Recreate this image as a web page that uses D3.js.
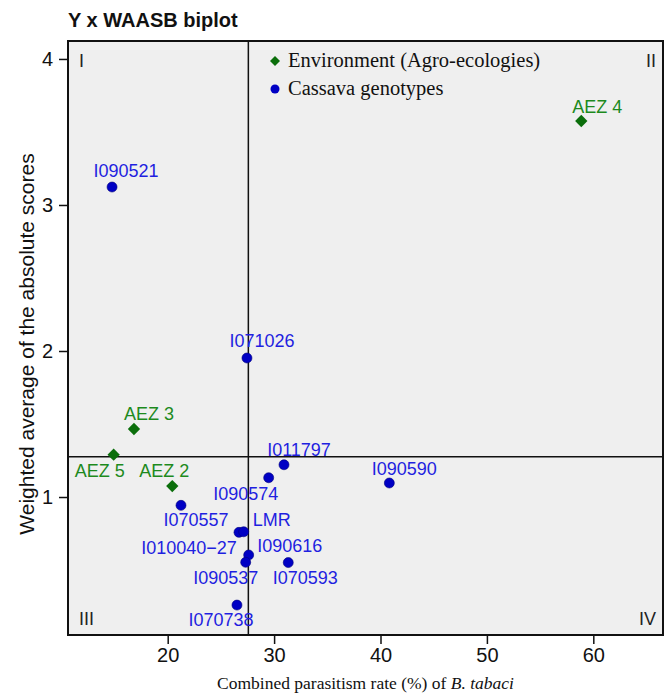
<!DOCTYPE html>
<html>
<head>
<meta charset="utf-8">
<script src="https://cdn.jsdelivr.net/npm/d3@7"></script>
<style>
  body { margin: 0; background: #fff; }
  svg { display: block; }
</style>
</head>
<body>
<svg id="chart" width="670" height="695"></svg>
<script>
// ambientes (agro-ecologias)
var envNames = ["AEZ 4", "AEZ 3", "AEZ 5", "AEZ 2"];
var envX = [58.87, 16.83, 14.92, 20.43];
var envY = [3.575, 1.466, 1.29, 1.075];

// genótipos de mandioca
var genNames = ["I090521", "I071026", "I011797", "I090574", "I090590", "I070557",
  "I010040\u221227", "LMR", "I090616", "I090537", "I070593", "I070738"];
var genX = [14.77, 27.45, 30.93, 29.49, 40.83, 21.25, 26.70, 27.14, 27.61, 27.33, 31.33, 26.51];
var genY = [3.123, 1.952, 1.221, 1.132, 1.096, 0.943, 0.758, 0.762, 0.603, 0.553, 0.551, 0.26];

// médias (linhas que dividem os quadrantes)
var meanX = 27.58;
var meanY = 1.275;

var xTicks = [20, 30, 40, 50, 60];
var yTicks = [1, 2, 3, 4];

// deslocamento dos rótulos (centro do texto, linha de base) em px
var nudge = {
  "AEZ 4": [16, -8], "AEZ 3": [15, -9], "AEZ 5": [-14, 22], "AEZ 2": [-8, -9],
  "I090521": [14, -10], "I071026": [15, -11], "I011797": [15, -9], "I090574": [-23, 22],
  "I090590": [15, -8], "I070557": [15, 21], "I010040\u221227": [-50, 22], "LMR": [28, -6],
  "I090616": [41, -3], "I090537": [-20, 22], "I070593": [17, 21], "I070738": [-16, 21]
};

var svg = d3.select("#chart");
var pLeft = 68, pRight = 663, pTop = 41, pBottom = 635;

var x = d3.scaleLinear().domain([10.63, 66.55]).range([pLeft, pRight]);
var y = d3.scaleLinear().domain([0.055, 4.123]).range([pBottom, pTop]);

var sans = "'Liberation Sans', Arial, sans-serif";
var serif = "'Liberation Serif', 'Times New Roman', serif";

// título
svg.append("text").attr("x", 68).attr("y", 27)
  .attr("font-family", sans).attr("font-weight", "bold").attr("font-size", 20)
  .attr("fill", "#111").text("Y x WAASB biplot");

// fundo do painel
svg.append("rect").attr("x", pLeft).attr("y", pTop)
  .attr("width", pRight - pLeft).attr("height", pBottom - pTop)
  .attr("fill", "#efefef");

// eixos
var xAxis = svg.append("g").attr("transform", "translate(0," + pBottom + ")")
  .call(d3.axisBottom(x).tickValues(xTicks).tickSize(9).tickPadding(4));
var yAxis = svg.append("g").attr("transform", "translate(" + pLeft + ",0)")
  .call(d3.axisLeft(y).tickValues(yTicks).tickFormat(d3.format("d")).tickSize(9).tickPadding(6));
[xAxis, yAxis].forEach(function (g) {
  g.select(".domain").remove();
  g.selectAll("line").attr("stroke", "#111").attr("stroke-width", 1.5);
  g.selectAll("text").attr("font-family", sans).attr("font-size", 20).attr("fill", "#111");
});

// linhas das médias
svg.append("line").attr("x1", x(meanX)).attr("x2", x(meanX)).attr("y1", pTop).attr("y2", pBottom)
  .attr("stroke", "#111").attr("stroke-width", 1.5);
svg.append("line").attr("x1", pLeft).attr("x2", pRight).attr("y1", y(meanY)).attr("y2", y(meanY))
  .attr("stroke", "#111").attr("stroke-width", 1.5);

// borda do painel
svg.append("rect").attr("x", pLeft).attr("y", pTop)
  .attr("width", pRight - pLeft).attr("height", pBottom - pTop)
  .attr("fill", "none").attr("stroke", "#111").attr("stroke-width", 2);

// rótulos dos quadrantes
var quad = [["I", pLeft + 11, pTop + 26, "start"], ["II", pRight - 7, pTop + 26, "end"],
  ["III", pLeft + 11, pBottom - 10, "start"], ["IV", pRight - 7, pBottom - 10, "end"]];
svg.selectAll(".quad").data(quad).enter().append("text")
  .attr("x", function (d) { return d[1]; }).attr("y", function (d) { return d[2]; })
  .attr("text-anchor", function (d) { return d[3]; })
  .attr("font-family", sans).attr("font-size", 18).attr("fill", "#222")
  .text(function (d) { return d[0]; });

// genótipos
var gen = genNames.map(function (n, i) { return { name: n, x: genX[i], y: genY[i] }; });
svg.selectAll(".gen").data(gen).enter().append("circle")
  .attr("cx", function (d) { return x(d.x); })
  .attr("cy", function (d) { return y(d.y); })
  .attr("r", 5).attr("fill", "#0000c4").attr("stroke", "#00007a").attr("stroke-width", 0.6);
svg.selectAll(".genlab").data(gen).enter().append("text")
  .attr("x", function (d) { return x(d.x) + nudge[d.name][0]; })
  .attr("y", function (d) { return y(d.y) + nudge[d.name][1]; })
  .attr("text-anchor", "middle")
  .attr("font-family", sans).attr("font-size", 18).attr("fill", "#1f1fe0")
  .text(function (d) { return d.name; });

// ambientes
var env = envNames.map(function (n, i) { return { name: n, x: envX[i], y: envY[i] }; });
var diamond = d3.symbol().type(d3.symbolSquare).size(76);
svg.selectAll(".env").data(env).enter().append("path")
  .attr("d", diamond)
  .attr("transform", function (d) { return "translate(" + x(d.x) + "," + y(d.y) + ") rotate(45)"; })
  .attr("fill", "#0b6e0b");
svg.selectAll(".envlab").data(env).enter().append("text")
  .attr("x", function (d) { return x(d.x) + nudge[d.name][0]; })
  .attr("y", function (d) { return y(d.y) + nudge[d.name][1]; })
  .attr("text-anchor", "middle")
  .attr("font-family", sans).attr("font-size", 18).attr("fill", "#1d8a1d")
  .text(function (d) { return d.name; });

// legenda
var leg = svg.append("g").attr("transform", "translate(275,61)");
leg.append("path").attr("d", d3.symbol().type(d3.symbolSquare).size(50))
  .attr("transform", "rotate(45)").attr("fill", "#0b6e0b");
leg.append("circle").attr("cy", 28).attr("r", 4.5).attr("fill", "#0000c4");
leg.append("text").attr("x", 13).attr("y", 6).attr("font-family", serif).attr("font-size", 20.5)
  .attr("fill", "#111").text("Environment (Agro-ecologies)");
leg.append("text").attr("x", 13).attr("y", 34).attr("font-family", serif).attr("font-size", 20.5)
  .attr("fill", "#111").text("Cassava genotypes");

// títulos dos eixos
var xt = svg.append("text").attr("x", (pLeft + pRight) / 2).attr("y", 689)
  .attr("text-anchor", "middle").attr("font-family", serif).attr("font-size", 17.5).attr("fill", "#111");
xt.append("tspan").text("Combined parasitism rate (%) of ");
xt.append("tspan").attr("font-style", "italic").text("B. tabaci");

svg.append("text").attr("transform", "translate(34,344) rotate(-90)")
  .attr("text-anchor", "middle").attr("font-family", sans).attr("font-size", 21).attr("fill", "#111")
  .text("Weighted average of the absolute scores");
</script>
</body>
</html>
